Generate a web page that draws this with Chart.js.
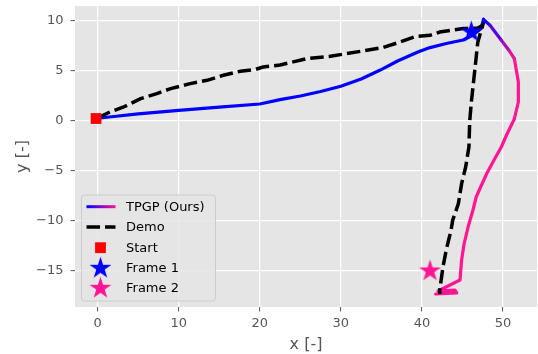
<!DOCTYPE html>
<html>
<head>
<meta charset="utf-8">
<script src="https://cdn.jsdelivr.net/npm/chart.js@4.4.1/dist/chart.umd.min.js"></script>
<style>
  html, body { margin: 0; padding: 0; background: #fff; }
</style>
</head>
<body>
<canvas id="myChart" width="538" height="354"></canvas>
<script>
// trajectory
const tpgpX = [-0.2, 2, 5, 10, 15, 20, 22.5, 25, 27.5, 30, 32.5, 34.8, 37, 39.5, 41, 43, 45.1, 46.3, 47.3, 47.6,
  48.4, 49.8, 50.8, 51.4, 51.9, 51.9, 51.4, 50.5, 49.8, 48.9, 48, 47.3, 46.7, 46.3, 45.7, 45.2, 44.9, 44.7,
  42.0, 44.05, 44.3, 41.7];
const tpgpY = [0.25, 0.45, 0.72, 1.07, 1.38, 1.7, 2.14, 2.5, 2.95, 3.47, 4.2, 5.07, 6.0, 6.9, 7.34, 7.75, 8.1, 8.6, 9.24, 10.17,
  9.57, 8.07, 7.0, 6.24, 3.9, 1.9, 0.2, -1.3, -2.6, -3.9, -5.26, -6.5, -7.6, -8.9, -10.6, -12.3, -13.9, -15.9,
  -17.0, -16.9, -17.2, -17.3];

const demoX = [0, 1.5, 3.2, 5.3, 7.3, 9.0, 11.4, 13.5, 15.5, 17.6, 19.4, 20.4, 22.5, 25.8, 28.7, 30.7, 33.2, 35.2,
  37.3, 39.3, 41, 42.2, 45.1, 46.9, 47.5, 46.9, 46.5, 46.1, 45.9, 45.8, 45.4, 44.9, 44.5, 43.8, 43.6, 43.0, 42.6, 42.2, 42.2];
const demoY = [0.3, 0.9, 1.4, 2.24, 2.74, 3.24, 3.74, 4.07, 4.57, 4.97, 5.14, 5.4, 5.6, 6.24, 6.47, 6.74, 7.07, 7.34,
  7.9, 8.47, 8.57, 8.9, 9.24, 9.3, 9.57, 7.9, 4.9, 1.9, 0.0, -2.6, -4.6, -6.26, -8.26, -9.93, -10.9, -12.9, -14.6, -16.9, -17.3];

const startPt = [-0.2, 0.25];
const frame1Pt = [46.1, 8.9];
const frame2Pt = [41.0, -15.0];

const xTicks = [0, 10, 20, 30, 40, 50];
const yTicks = [-15, -10, -5, 0, 5, 10];
const legendNames = ["TPGP (Ours)", "Demo", "Start", "Frame 1", "Frame 2"];

const BLUE = [0, 0, 255];
const PINK = [255, 20, 147];
const FONT = "'DejaVu Sans', sans-serif";

function mix(t) {
  const c = BLUE.map((b, i) => Math.round(b + (PINK[i] - b) * t));
  return "rgb(" + c.join(",") + ")";
}

function makeStar(color, r) {
  const c = document.createElement("canvas");
  const s = Math.ceil(2 * r + 2);
  c.width = s; c.height = s;
  const g = c.getContext("2d");
  g.beginPath();
  for (let i = 0; i < 10; i++) {
    const rr = i % 2 === 0 ? r : r * 0.382;
    const a = -Math.PI / 2 + i * Math.PI / 5;
    g.lineTo(s / 2 + rr * Math.cos(a), s / 2 + rr * Math.sin(a));
  }
  g.closePath();
  g.fillStyle = color;
  g.fill();
  return c;
}
const star1 = makeStar("#0000ff", 11.5);
const star2 = makeStar("#ff1493", 11.5);

const toPts = (xs, ys) => xs.map((x, i) => ({ x: x, y: ys[i] }));
const peak = tpgpY.indexOf(Math.max(...tpgpY));

// grey panel behind the data
const panelBg = {
  id: "panelBg",
  beforeDraw(chart) {
    const { ctx, chartArea: a } = chart;
    ctx.save();
    ctx.fillStyle = "#e5e5e5";
    ctx.fillRect(a.left, a.top, a.right - a.left, a.bottom - a.top);
    ctx.restore();
  }
};

// legend box in the lower left of the panel
const legendBox = {
  id: "legendBox",
  afterDatasetsDraw(chart) {
    const { ctx, chartArea: a } = chart;
    const x0 = a.left + 6.5, y1 = a.bottom - 6, w = 134, h = 106;
    const y0 = y1 - h;
    ctx.save();
    ctx.beginPath();
    ctx.roundRect(x0, y0, w, h, 3);
    ctx.fillStyle = "rgba(229,229,229,0.85)";
    ctx.fill();
    ctx.strokeStyle = "#cccccc";
    ctx.lineWidth = 1;
    ctx.stroke();

    const rows = [11.7, 32, 52.7, 73.3, 93.3].map(d => y0 + d);
    const hx0 = x0 + 5, hx1 = x0 + 34, hc = x0 + 19;

    const grad = ctx.createLinearGradient(hx0, 0, hx1, 0);
    grad.addColorStop(0, mix(0));
    grad.addColorStop(1, mix(1));
    ctx.strokeStyle = grad;
    ctx.lineWidth = 3;
    ctx.beginPath(); ctx.moveTo(hx0, rows[0]); ctx.lineTo(hx1, rows[0]); ctx.stroke();

    ctx.strokeStyle = "#000";
    ctx.lineWidth = 3.5;
    ctx.setLineDash([13.5, 5]);
    ctx.beginPath(); ctx.moveTo(hx0, rows[1]); ctx.lineTo(hx1, rows[1]); ctx.stroke();
    ctx.setLineDash([]);

    ctx.fillStyle = "#ff0000";
    ctx.fillRect(hc - 5.4, rows[2] - 5.4, 10.8, 10.8);
    ctx.drawImage(star1, hc - star1.width / 2, rows[3] - star1.height / 2);
    ctx.drawImage(star2, hc - star2.width / 2, rows[4] - star2.height / 2);

    ctx.fillStyle = "#000";
    ctx.font = "13px " + FONT;
    ctx.textBaseline = "middle";
    legendNames.forEach((t, i) => ctx.fillText(t, x0 + 44.5, rows[i] + 0.5));
    ctx.restore();
  }
};

const fmt = v => (v < 0 ? "\u2212" + Math.abs(v) : String(v));

new Chart(document.getElementById("myChart"), {
  type: "scatter",
  data: {
    datasets: [
      {
        label: legendNames[2],
        data: [{ x: startPt[0], y: startPt[1] }],
        pointStyle: "rect",
        pointRadius: 7.6,
        backgroundColor: "#ff0000",
        borderWidth: 0,
        order: 0
      },
      {
        label: legendNames[3],
        data: [{ x: frame1Pt[0], y: frame1Pt[1] }],
        pointStyle: star1,
        pointRadius: 10,
        order: 0
      },
      {
        label: legendNames[4],
        data: [{ x: frame2Pt[0], y: frame2Pt[1] }],
        pointStyle: star2,
        pointRadius: 10,
        order: 0
      },
      {
        label: legendNames[1],
        data: toPts(demoX, demoY),
        showLine: true,
        pointRadius: 0,
        borderColor: "#000",
        borderWidth: 3.5,
        borderDash: [13.5, 5],
        tension: 0,
        order: 1
      },
      {
        label: legendNames[0],
        data: toPts(tpgpX, tpgpY),
        showLine: true,
        pointRadius: 0,
        borderColor: "#0000ff",
        borderWidth: 3.2,
        borderCapStyle: "round",
        borderJoinStyle: "round",
        tension: 0,
        order: 2,
        segment: {
          borderColor: s => {
            if (s.p0DataIndex < peak) return mix(0);
            const ym = (s.p0.parsed.y + s.p1.parsed.y) / 2;
            const t = Math.min(1, Math.max(0, (tpgpY[peak] - ym) / 4));
            return mix(t);
          }
        }
      }
    ]
  },
  options: {
    responsive: false,
    animation: false,
    events: [],
    layout: { autoPadding: false, padding: { top: 6, right: 1, left: 0, bottom: 0 } },
    plugins: {
      legend: { display: false },
      tooltip: { enabled: false }
    },
    scales: {
      x: {
        type: "linear",
        min: -2.8,
        max: 54.2,
        afterBuildTicks: s => { s.ticks = xTicks.map(v => ({ value: v })); },
        afterFit: s => { s.height = 47; s.paddingLeft = 0; s.paddingRight = 0; },
        grid: { color: "#ffffff", lineWidth: 1.2, tickColor: "#555555", tickLength: 4.5, tickWidth: 1 },
        border: { display: false },
        ticks: { color: "#555555", font: { family: FONT, size: 13 }, padding: 4.5, maxRotation: 0, autoSkip: false, callback: fmt },
        title: { display: true, text: "x [-]", color: "#555555", font: { family: FONT, size: 16 }, padding: { top: 0, bottom: 0 } }
      },
      y: {
        type: "linear",
        min: -18.6,
        max: 11.5,
        afterBuildTicks: s => { s.ticks = yTicks.map(v => ({ value: v })); },
        afterFit: s => { s.width = 75; s.paddingTop = 0; s.paddingBottom = 0; },
        grid: { color: "#ffffff", lineWidth: 1.2, tickColor: "#555555", tickLength: 4.5, tickWidth: 1 },
        border: { display: false },
        ticks: { color: "#555555", font: { family: FONT, size: 13 }, padding: 7, autoSkip: false, callback: fmt },
        title: { display: true, text: "y [-]", color: "#555555", font: { family: FONT, size: 16 }, padding: { top: 13, bottom: 0 } }
      }
    }
  },
  plugins: [panelBg, legendBox]
});
</script>
</body>
</html>
